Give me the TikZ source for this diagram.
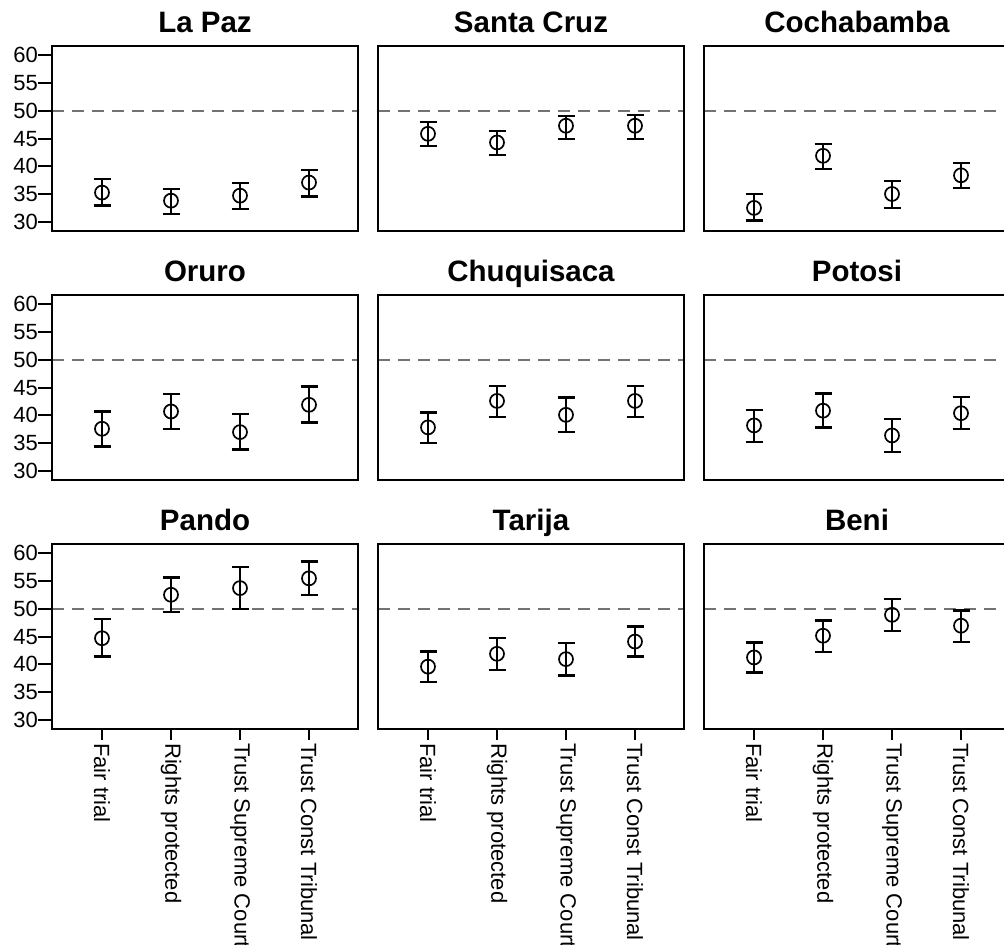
\documentclass[tikz,border=0pt]{standalone}
\usepackage{fontspec}
\setmainfont{Liberation Sans}
\tikzset{
  marco/.style={line width=2pt},
  media/.style={line width=1.7pt},
  barra/.style={line width=2.4pt},
  soglia/.style={line width=2pt,black!55,dash pattern=on 12pt off 8pt},
  titolo/.style={font=\bfseries\fontsize{29.5}{29.5}\selectfont,anchor=base,inner sep=0pt},
  tacca/.style={font=\fontsize{22}{22}\selectfont,anchor=east,inner sep=0pt},
  categ/.style={font=\fontsize{22}{22}\selectfont,rotate=-90,anchor=west,inner sep=0pt}
}
% riquadro: left, top, name, title
\def\riquadro#1#2#3#4{%
  \draw[soglia] (#1,{#2+64.7}) -- ({#1+306},{#2+64.7});
  \draw[marco] (#1,#2) rectangle ({#1+306},{#2+185});
  \node[titolo] (#3) at ({#1+153},{#2-13.3}) {#4};}
% barra: left, top, slot, mean, upper, lower
\def\barra#1#2#3#4#5#6{%
  \pgfmathsetmacro\bx{#1+50+69*(#3-1)}%
  \pgfmathsetmacro\bm{#2+9+(60-#4)*5.57}%
  \pgfmathsetmacro\bh{#2+9+(60-#5)*5.57}%
  \pgfmathsetmacro\bl{#2+9+(60-#6)*5.57}%
  \draw[barra] (\bx-8.5,\bh) -- (\bx+8.5,\bh) (\bx,\bh) -- (\bx,\bl)
    (\bx-8.5,\bl) -- (\bx+8.5,\bl);
  \draw[media] (\bx,\bm) circle (7pt);}

\begin{document}
\begin{tikzpicture}[x=1pt,y=-1pt]
\fill[white] (0,0) rectangle (1004,945);
\useasboundingbox (0,0) rectangle (1004,945);
\clip (0,0) rectangle (1004,945);
% riquadri
\riquadro{52}{46}{lapaz}{La Paz}
\riquadro{378}{46}{santacruz}{Santa Cruz}
\riquadro{704}{46}{cochabamba}{Cochabamba}
\riquadro{52}{295}{oruro}{Oruro}
\riquadro{378}{295}{chuquisaca}{Chuquisaca}
\riquadro{704}{295}{potosi}{Potosi}
\riquadro{52}{544}{pando}{Pando}
\riquadro{378}{544}{tarija}{Tarija}
\riquadro{704}{544}{beni}{Beni}
% asse y
\foreach \r in {46,295,544}
  \foreach \v in {30,35,...,60} {
    \draw[marco] (38,{\r+9+(60-\v)*5.57}) -- (52,{\r+9+(60-\v)*5.57});
    \node[tacca] (y\r-\v) at (38,{\r+9+(60-\v)*5.57}) {\v};
  }
% asse x
\foreach \c in {52,378,704}
  \foreach [count=\i] \t in {Fair trial,Rights protected,Trust Supreme Court,Trust Const Tribunal} {
    \draw[marco] ({\c+50+69*(\i-1)},729) -- ({\c+50+69*(\i-1)},740);
    \node[categ] (x\c-\i) at ({\c+50+69*(\i-1)},743) {\t};
  }
% La Paz
\barra{52}{46}{1}{35.3}{37.7}{32.95}
\barra{52}{46}{2}{33.85}{35.95}{31.5}
\barra{52}{46}{3}{34.75}{37.0}{32.4}
\barra{52}{46}{4}{37.1}{39.4}{34.6}
% Santa Cruz
\barra{378}{46}{1}{45.85}{47.95}{43.7}
\barra{378}{46}{2}{44.3}{46.4}{42.0}
\barra{378}{46}{3}{47.3}{49.1}{44.9}
\barra{378}{46}{4}{47.3}{49.25}{44.9}
% Cochabamba
\barra{704}{46}{1}{32.55}{35.05}{30.3}
\barra{704}{46}{2}{41.9}{44.0}{39.5}
\barra{704}{46}{3}{35.05}{37.4}{32.55}
\barra{704}{46}{4}{38.4}{40.6}{36.1}
% Oruro
\barra{52}{295}{1}{37.6}{40.7}{34.45}
\barra{52}{295}{2}{40.7}{43.8}{37.55}
\barra{52}{295}{3}{37.0}{40.25}{33.85}
\barra{52}{295}{4}{41.9}{45.2}{38.75}
% Chuquisaca
\barra{378}{295}{1}{37.85}{40.5}{35.05}
\barra{378}{295}{2}{42.6}{45.3}{39.7}
\barra{378}{295}{3}{40.1}{43.2}{37.0}
\barra{378}{295}{4}{42.6}{45.3}{39.7}
% Potosi
\barra{704}{295}{1}{38.2}{41.0}{35.2}
\barra{704}{295}{2}{40.85}{43.9}{37.85}
\barra{704}{295}{3}{36.4}{39.35}{33.45}
\barra{704}{295}{4}{40.4}{43.3}{37.55}
% Pando
\barra{52}{544}{1}{44.7}{48.1}{41.4}
\barra{52}{544}{2}{52.5}{55.6}{49.4}
\barra{52}{544}{3}{53.7}{57.45}{49.95}
\barra{52}{544}{4}{55.45}{58.45}{52.5}
% Tarija
\barra{378}{544}{1}{39.6}{42.3}{36.8}
\barra{378}{544}{2}{41.9}{44.7}{39.05}
\barra{378}{544}{3}{40.95}{43.8}{38.0}
\barra{378}{544}{4}{44.1}{46.8}{41.4}
% Beni
\barra{704}{544}{1}{41.25}{43.95}{38.55}
\barra{704}{544}{2}{45.15}{47.9}{42.2}
\barra{704}{544}{3}{48.9}{51.75}{46.0}
\barra{704}{544}{4}{46.95}{49.65}{44.0}
\end{tikzpicture}
\end{document}
